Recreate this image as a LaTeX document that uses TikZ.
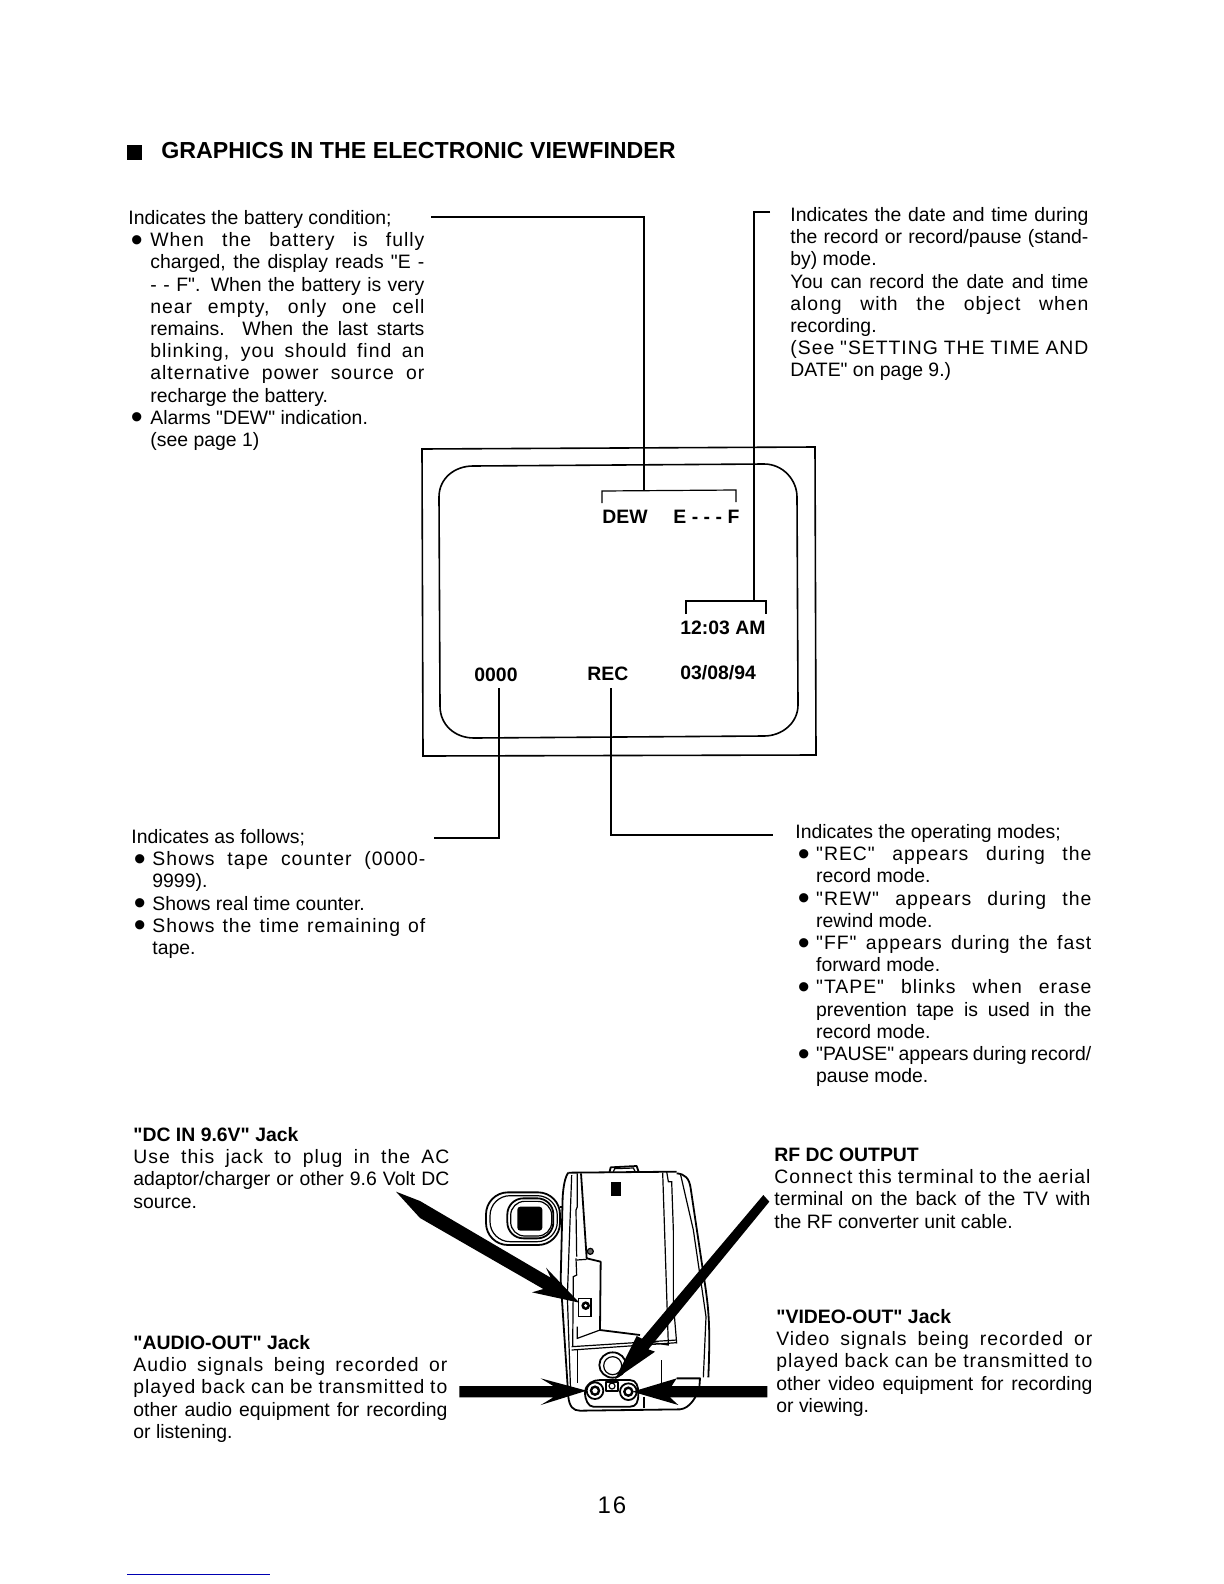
\documentclass[tikz,border=0pt]{standalone}
\usepackage{fontspec}
\setmainfont{Liberation Sans}
\newfontfamily\hv{Liberation Sans}
\newlength\blkw
\newlength\ind
\newcommand\setblk[2]{\global\blkw=#1\relax\global\ind=#2\relax}
\newcommand\bul{\hspace{1.2pt}\raisebox{-2.3pt}{\scalebox{1.75}{\textbullet}}}
\newcommand\topst{\rule{0pt}{8pt}}
\newcommand\JL[1]{\makebox[\blkw][s]{#1}}
\newcommand\BL[1]{\makebox[\blkw][s]{\makebox[\ind][l]{\bul}#1}}
\newcommand\CL[1]{\hspace*{\ind}\makebox[\dimexpr\blkw-\ind\relax][s]{#1}}
\newcommand\SL[1]{\hspace*{\ind}#1}
\newcommand\BS[1]{\makebox[\ind][l]{\bul}#1}
\newcommand\JX[1]{{\addfontfeature{LetterSpace=5}\JL{#1}}}
\newcommand\BX[1]{{\addfontfeature{LetterSpace=5}\BL{#1}}}
\newcommand\CX[1]{{\addfontfeature{LetterSpace=5}\CL{#1}}}
\tikzset{
  blk/.style={anchor=north west,inner sep=0pt,align=left,font=\hv\fontsize{9.7}{11.1}\selectfont},
  vf/.style={anchor=base west,inner sep=0pt,font=\hv\fontsize{9.7}{12}\selectfont\bfseries},
  lead/.style={line width=0.6pt,black},
  frm/.style={line width=0.8pt,black},
  cam/.style={line width=0.9pt,black,line join=round},
  camthin/.style={line width=0.6pt,black},
  fillarr/.style={fill=black,draw=none}
}
\begin{document}
\begin{tikzpicture}[x=0.5pt,y=-0.5pt]
\useasboundingbox (0,0) rectangle (1224,1584);
\fill[white] (0,0) rectangle (1224,1584);
% title
\fill[black] (127,145) rectangle (142,160);
\node[anchor=base west,inner sep=0pt,font=\hv\fontsize{11.6}{14}\selectfont\bfseries] (title) at (161,158) {GRAPHICS IN THE ELECTRONIC VIEWFINDER};
% text blocks
\node[blk] (bat) at (128,208) {\setblk{148pt}{11pt}\topst Indicates the battery condition;\\
\BX{When the battery is fully}\\
\CL{charged, the display reads "E -}\\
\CL{- - F". When the battery is very}\\
\CX{near empty, only one cell}\\
\CL{remains. When the last starts}\\
\CX{blinking, you should find an}\\
\CX{alternative power source or}\\
\SL{recharge the battery.}\\
\BS{Alarms "DEW" indication.}\\
\SL{(see page 1)}};
\node[blk] (dt) at (790,205) {\setblk{149pt}{0pt}\topst\JL{Indicates the date and time during}\\
\JL{the record or record/pause (stand-}\\
by) mode.\\
\JL{You can record the date and time}\\
\JX{along with the object when}\\
recording.\\
\JX{(See "SETTING THE TIME AND}\\
DATE" on page 9.)};
\node[blk] (cnt) at (131,827) {\setblk{147pt}{10.5pt}\topst Indicates as follows;\\
\BX{Shows tape counter (0000-}\\
\SL{9999).}\\
\BS{Shows real time counter.}\\
\BX{Shows the time remaining of}\\
\SL{tape.}};
\node[blk] (mode) at (795,822) {\setblk{148pt}{10.4pt}\topst Indicates the operating modes;\\
\BX{"REC" appears during the}\\
\SL{record mode.}\\
\BX{"REW" appears during the}\\
\SL{rewind mode.}\\
\BX{"FF" appears during the fast}\\
\SL{forward mode.}\\
\BX{"TAPE" blinks when erase}\\
\CL{prevention tape is used in the}\\
\SL{record mode.}\\
\BL{"PAUSE" appears during record/}\\
\SL{pause mode.}};
\node[blk] (dcin) at (133,1125) {\setblk{158pt}{0pt}\topst\textbf{"DC IN 9.6V" Jack}\\
\JX{Use this jack to plug in the AC}\\
\JL{adaptor/charger or other 9.6 Volt DC}\\
source.};
\node[blk] (audio) at (133,1333) {\setblk{157pt}{0pt}\topst\textbf{"AUDIO-OUT" Jack}\\
\JX{Audio signals being recorded or}\\
\JX{played back can be transmitted to}\\
\JL{other audio equipment for recording}\\
or listening.};
\node[blk] (rf) at (774,1145) {\setblk{158pt}{0pt}\topst\textbf{RF DC OUTPUT}\\
\JX{Connect this terminal to the aerial}\\
\JL{terminal on the back of the TV with}\\
the RF converter unit cable.};
\node[blk] (video) at (776,1307) {\setblk{158pt}{0pt}\topst\textbf{"VIDEO-OUT" Jack}\\
\JX{Video signals being recorded or}\\
\JX{played back can be transmitted to}\\
\JL{other video equipment for recording}\\
or viewing.};
\node[anchor=base,inner sep=0pt,font=\hv\fontsize{12}{14}\selectfont] (page) at (612,1513) {1\hspace{1pt}6};
% viewfinder frame
\draw[frm] (422,449) -- (815,447) -- (816,755) -- (423,756) -- cycle;
\draw[frm] (439,497) .. controls (439,478) and (455,466) .. (473,466) -- (764,464) .. controls (783,464) and (797,480) .. (797,497) -- (798,705) .. controls (798,723) and (782,736) .. (764,736) -- (474,738) .. controls (455,738) and (440,725) .. (440,706) -- cycle;
% viewfinder labels
\node[vf] (dew) at (602,523) {DEW};
\node[vf] (ef) at (673,523) {\makebox[33pt][s]{E\hfil-\hfil-\hfil-\hfil F}};
\node[vf] (tm) at (680,634) {12:03 AM};
\node[vf] (ctr) at (474,681) {0000};
\node[vf] (rec) at (587,680) {REC};
\node[vf] (dat) at (680,679) {03/08/94};
% brackets and leaders
\coordinate (b1a) at (602,503);
\coordinate (b1b) at (602,491);
\coordinate (b1s) at (644,491);
\coordinate (b1c) at (736,490);
\coordinate (b1d) at (736,502);
\coordinate (b2a) at (686,614);
\coordinate (b2b) at (686,601);
\coordinate (b2s) at (754,601);
\coordinate (b2c) at (766,601);
\coordinate (b2d) at (766,614);
\coordinate (l1) at (431,217);
\coordinate (l1c) at (644,217);
\coordinate (l2) at (770,212);
\coordinate (l2c) at (754,212);
\coordinate (l3t) at (499,688);
\coordinate (l3c) at (499,838);
\coordinate (l3e) at (434,838);
\coordinate (l4t) at (611,688);
\coordinate (l4c) at (611,835);
\coordinate (l4e) at (773,835);
\draw[lead] (b1a) -- (b1b) -- (b1c) -- (b1d);
\draw[lead] (b2a) -- (b2b) -- (b2c) -- (b2d);
\draw[lead] (l1) -- (l1c) -- (b1s);
\draw[lead] (l2) -- (l2c) -- (b2s);
\draw[lead] (l3t) -- (l3c) -- (l3e);
\draw[lead] (l4t) -- (l4c) -- (l4e);
% camera, zoom coordinates
\begin{scope}[shift={(420,1130)},x=0.16667pt,y=-0.16667pt]
\draw[cam] (568,128) -- (572,112) -- (650,108) -- (656,126);
\draw[camthin] (580,125) -- (584,116) -- (640,114) -- (645,124);
\draw[cam] (445,128) -- (770,125);
% body outline
\draw[cam] (445,128) .. controls (435,140) and (430,170) .. (428,200) -- (422,450) -- (445,800) .. controls (448,830) and (460,842) .. (480,842) -- (780,838) .. controls (810,835) and (830,800) .. (838,772) -- (840,745) -- (770,745);
\draw[cam] (770,130) .. controls (795,132) and (808,145) .. (812,175) -- (850,430) .. controls (865,530) and (872,570) .. (865,742);
\draw[camthin] (782,135) -- (820,300) -- (858,560) -- (850,742);
\draw[camthin] (455,135) -- (442,500) -- (452,790);
\draw[camthin] (472,130) -- (472,230) -- (468,240) -- (470,380);
\draw[cam] (483,130) -- (500,385) -- (542,395) -- (540,600) -- (660,615);
\draw[camthin] (728,128) -- (745,645) -- (680,635);
\draw[camthin] (740,125) -- (745,155) -- (755,155) -- (760,300) -- (760,520) -- (770,640);
\draw[camthin] (470,390) -- (500,388);
\draw[camthin] (468,385) -- (470,435) -- (460,440) -- (458,650);
\draw[camthin] (472,590) -- (472,625) -- (540,600);
\draw[camthin] (455,650) -- (770,630);
\draw[camthin] (455,660) -- (770,638);
\draw[camthin] (473,660) -- (473,760);
\draw[camthin] (725,690) -- (725,770);
\draw[camthin] (672,800) -- (672,835);
\fill[black] (572,155) rectangle (602,198);
\draw[camthin,fill=black!60] (511,364) circle (9);
\draw[camthin] (476,505) rectangle (513,560);
\fill[black] (497,527) circle (13);
\fill[white] (497,527) circle (5);
% eyepiece
\draw[cam,rounded corners=11pt] (198,187) rectangle (420,345);
\draw[camthin,rounded corners=10pt] (210,197) rectangle (412,335);
\draw[cam,rounded corners=8pt] (262,205) rectangle (400,325);
\draw[camthin,rounded corners=7pt] (272,214) rectangle (395,318);
\fill[black,rounded corners=1.5pt] (292,230) rectangle (367,302);
\draw[cam] (420,230) -- (430,230);
% jack plate
\draw[cam] (578,705) circle (40 and 38);
\draw[camthin] (578,707) circle (27 and 27);
\draw[cam] (495,787) .. controls (497,760) and (520,750) .. (540,750) -- (630,750) .. controls (650,750) and (655,770) .. (655,790) .. controls (655,815) and (650,830) .. (630,830) -- (520,830) .. controls (505,830) and (495,810) .. (495,787) -- cycle;
\draw[cam] (525,782) circle (25);
\draw[line width=1.2pt] (525,782) circle (12);
\draw[cam] (625,785) circle (25);
\draw[line width=1.2pt] (625,785) circle (12);
\draw[cam] (558,755) rectangle (595,782);
\draw[camthin] (576,768) circle (9);
% arrows
\fill[fillarr] (-72,185) -- (0,213) -- (392,443) -- (378,413) -- (478,518) -- (336,487) -- (370,477) -- (0,264) -- cycle;
\fill[fillarr] (1030,195) -- (1048,215) -- (685,658) -- (705,665) -- (585,748) -- (650,618) -- (666,626) -- cycle;
\fill[fillarr] (118,768) -- (400,768) -- (362,745) -- (500,782) -- (362,825) -- (400,802) -- (118,802) -- cycle;
\fill[fillarr] (1042,768) -- (755,768) -- (770,745) -- (637,785) -- (775,825) -- (750,802) -- (1042,802) -- cycle;
\end{scope}
\draw[line width=0.5pt,blue!70!black] (127,1574) -- (270,1574);
\end{tikzpicture}
\end{document}
